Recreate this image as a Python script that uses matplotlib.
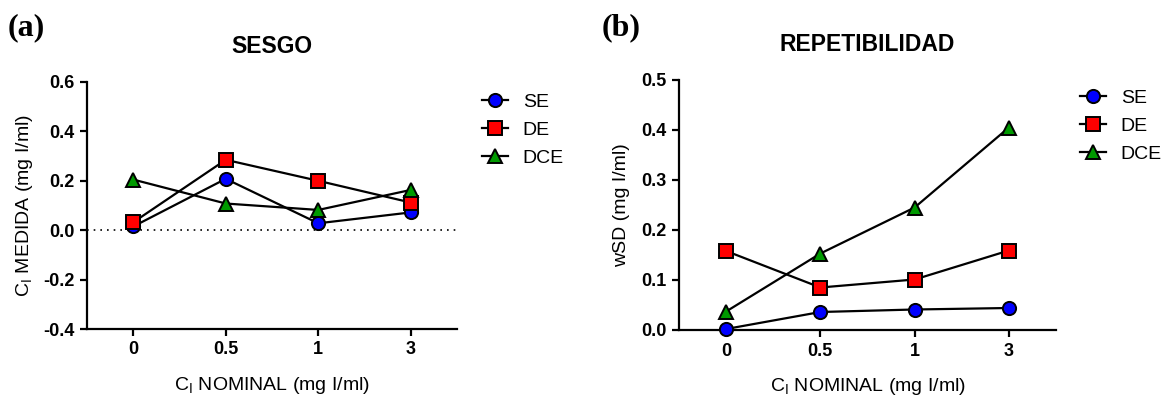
import matplotlib
matplotlib.use("Agg")
import matplotlib.pyplot as plt

plt.rcParams['font.family'] = ['Liberation Sans', 'DejaVu Sans']
plt.rcParams['mathtext.fontset'] = 'custom'
plt.rcParams['mathtext.rm'] = 'Liberation Sans'
plt.rcParams['mathtext.it'] = 'Liberation Sans'

categories = ["0", "0.5", "1", "3"]
series = ["SE", "DE", "DCE"]

sesgo_se = [0.015, 0.208, 0.028, 0.072]
sesgo_de = [0.032, 0.285, 0.200, 0.112]
sesgo_dce = [0.205, 0.108, 0.082, 0.163]

rep_se = [0.002, 0.036, 0.041, 0.044]
rep_de = [0.158, 0.085, 0.101, 0.159]
rep_dce = [0.037, 0.153, 0.245, 0.405]

styles = {
    "SE": dict(marker="o", markerfacecolor="#0000ff"),
    "DE": dict(marker="s", markerfacecolor="#ff0000"),
    "DCE": dict(marker="^", markerfacecolor="#009a00"),
}

W, H = 1170, 400
fig = plt.figure(figsize=(W / 100, H / 100), dpi=100)


def px_axes(l, t, r, b):
    return fig.add_axes([l / W, 1 - b / H, (r - l) / W, (b - t) / H])


def style_axes(ax):
    for s in ["top", "right"]:
        ax.spines[s].set_visible(False)
    for s in ["left", "bottom"]:
        ax.spines[s].set_linewidth(1.6)
    ax.tick_params(axis="both", width=1.6, length=5, labelsize=13, pad=4)
    for lbl in ax.get_xticklabels() + ax.get_yticklabels():
        lbl.set_fontweight("bold")


def draw(ax, data):
    x = list(range(len(categories)))
    handles = []
    for name, vals in zip(series, data):
        h, = ax.plot(x, vals, color="black", lw=1.6, markersize=9.5 if name != "DCE" else 10,
                     markeredgecolor="black", markeredgewidth=1.4, label=name,
                     clip_on=False, zorder=3, **styles[name])
        handles.append(h)
    ax.set_xlim(-0.5, 3.5)
    ax.set_xticks(x)
    ax.set_xticklabels(categories)
    return handles


# Panel (a)
ax1 = px_axes(87, 82, 457, 329)
h1 = draw(ax1, [sesgo_se, sesgo_de, sesgo_dce])
ax1.axhline(0, color="black", lw=1.2, ls=(0, (1, 3)), zorder=1)
ax1.set_ylim(-0.4, 0.6)
ax1.set_yticks([-0.4, -0.2, 0.0, 0.2, 0.4, 0.6])
ax1.set_yticklabels(["-0.4", "-0.2", "0.0", "0.2", "0.4", "0.6"])
style_axes(ax1)
ax1.set_ylabel(r"$\mathregular{C_I}$ MEDIDA (mg I/ml)", fontsize=14, labelpad=6)
ax1.set_xlabel(r"$\mathregular{C_I}$ NOMINAL (mg I/ml)", fontsize=14, labelpad=12)
ax1.set_title("SESGO", fontsize=16.5, fontweight="bold", pad=21)

# Panel (b)
ax2 = px_axes(679, 80, 1056, 330)
h2 = draw(ax2, [rep_se, rep_de, rep_dce])
ax2.set_ylim(0, 0.5)
ax2.set_yticks([0.0, 0.1, 0.2, 0.3, 0.4, 0.5])
ax2.set_yticklabels(["0.0", "0.1", "0.2", "0.3", "0.4", "0.5"])
style_axes(ax2)
ax2.set_ylabel("wSD (mg I/ml)", fontsize=14, labelpad=8)
ax2.set_xlabel(r"$\mathregular{C_I}$ NOMINAL (mg I/ml)", fontsize=14, labelpad=12)
ax2.set_title("REPETIBILIDAD", fontsize=16.5, fontweight="bold", pad=21)

for hs, lx, ty in [(h1, 482, 93), (h2, 1080, 89)]:
    fig.legend(handles=hs, labels=series, loc="upper left",
               bbox_to_anchor=(lx / W, 1 - ty / H), frameon=False,
               fontsize=14, handlelength=1.34, handletextpad=0.75,
               labelspacing=0.55, borderpad=0, borderaxespad=0)

fig.text(8 / W, 1 - 28 / H, "(a)", fontsize=23, fontweight="bold",
         family="Liberation Serif", va="center", ha="left")
fig.text(602 / W, 1 - 28 / H, "(b)", fontsize=23, fontweight="bold",
         family="Liberation Serif", va="center", ha="left")

fig.savefig("out.png", dpi=100)
